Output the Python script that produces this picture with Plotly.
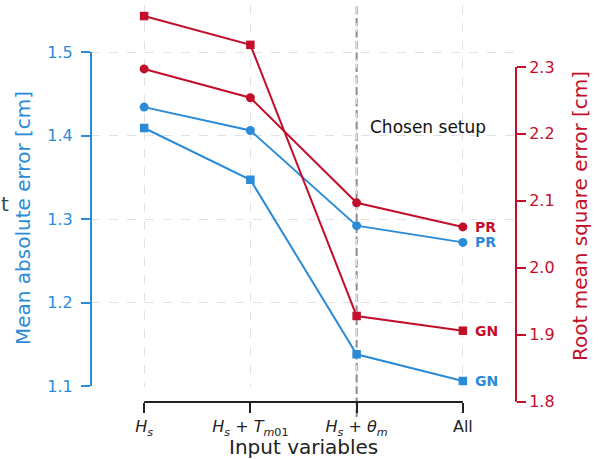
import plotly.graph_objects as go

# ---- data ----
categories = [0, 1, 2, 3]
tick_labels = [
    "<i>H</i><sub><i>s</i></sub>",
    "<i>H</i><sub><i>s</i></sub> + <i>T</i><sub><i>m</i>01</sub>",
    "<i>H</i><sub><i>s</i></sub> + <i>θ</i><sub><i>m</i></sub>",
    "All",
]
mae_pr = [1.434, 1.406, 1.292, 1.272]
mae_gn = [1.409, 1.347, 1.138, 1.106]
rmse_pr = [2.297, 2.254, 2.097, 2.061]
rmse_gn = [2.376, 2.333, 1.928, 1.906]
mae_ticks = [1.1, 1.2, 1.3, 1.4, 1.5]
rmse_ticks = [1.8, 1.9, 2.0, 2.1, 2.2, 2.3]

BLUE = "#2b8bd6"
RED = "#c20f2b"
DARK = "#222222"
GRID = "#e2e2e2"
FONT = "DejaVu Sans"

fig = go.Figure()

fig.add_trace(go.Scatter(x=categories, y=mae_pr, mode="lines+markers",
                         line=dict(color=BLUE, width=2),
                         marker=dict(symbol="circle", size=9, color=BLUE),
                         xaxis="x", yaxis="y", showlegend=False))
fig.add_trace(go.Scatter(x=categories, y=mae_gn, mode="lines+markers",
                         line=dict(color=BLUE, width=2),
                         marker=dict(symbol="square", size=8.5, color=BLUE),
                         xaxis="x", yaxis="y", showlegend=False))
fig.add_trace(go.Scatter(x=categories, y=rmse_pr, mode="lines+markers",
                         line=dict(color=RED, width=2),
                         marker=dict(symbol="circle", size=9, color=RED),
                         xaxis="x2", yaxis="y2", showlegend=False))
fig.add_trace(go.Scatter(x=categories, y=rmse_gn, mode="lines+markers",
                         line=dict(color=RED, width=2),
                         marker=dict(symbol="square", size=8.5, color=RED),
                         xaxis="x2", yaxis="y2", showlegend=False))

# plot area: x 91..516 px, y 5..402 px
W_PAPER = 425.0
H_PAPER = 397.0
y_dom_bottom = 15.0 / H_PAPER


def px_x(p):
    return (p - 91) / W_PAPER


def px_y(p):
    return (402 - p) / H_PAPER


fig.update_layout(
    width=598, height=459, autosize=False,
    margin=dict(l=91, r=82, t=5, b=57, pad=0),
    paper_bgcolor="white", plot_bgcolor="rgba(0,0,0,0)",
    font=dict(family=FONT, color=DARK),
    xaxis=dict(domain=[0, 1], range=[-0.5, 3.5], anchor="free", position=0,
               automargin=False,
               tickmode="array", tickvals=categories, ticktext=tick_labels,
               ticks="outside", ticklen=10, tickwidth=2, tickcolor=DARK,
               tickfont=dict(size=16, color=DARK, family=FONT),
               showline=False, zeroline=False,
               showgrid=True, gridcolor=GRID, griddash="dash", gridwidth=1),
    yaxis=dict(domain=[y_dom_bottom, 1], range=[1.0988, 1.5563], anchor="x",
               automargin=False,
               tickmode="array", tickvals=mae_ticks, ticktext=["1.1", "1.2", "1.3", "1.4", "1.5"],
               ticks="outside", ticklen=9, tickwidth=2, tickcolor=BLUE,
               ticklabelstandoff=5,
               tickfont=dict(size=16, color=BLUE, family=FONT),
               showline=False, zeroline=False,
               showgrid=True, gridcolor=GRID, griddash="dash", gridwidth=1),
    xaxis2=dict(domain=[0, 1], range=[-0.5, 3.5], anchor="y2", visible=False,
                automargin=False, showgrid=False, zeroline=False),
    yaxis2=dict(domain=[0, 1], range=[1.7995, 2.3925], anchor="free", position=1,
                side="right", automargin=False,
                tickmode="array", tickvals=rmse_ticks, ticktext=["1.8", "1.9", "2.0", "2.1", "2.2", "2.3"],
                ticks="outside", ticklen=9, tickwidth=2, tickcolor=RED,
                tickfont=dict(size=16, color=RED, family=FONT),
                showline=False, zeroline=False, showgrid=False),
)

shapes = [
    # bounded spines
    dict(type="line", xref="paper", yref="y", x0=0, x1=0, y0=mae_ticks[0], y1=mae_ticks[-1],
         line=dict(color=BLUE, width=2)),
    dict(type="line", xref="paper", yref="y2", x0=1, x1=1, y0=rmse_ticks[0], y1=rmse_ticks[-1],
         line=dict(color=RED, width=2)),
    dict(type="line", xref="x", yref="paper", x0=categories[0], x1=categories[-1], y0=0, y1=0,
         line=dict(color=DARK, width=2)),
    # chosen setup marker line
    dict(type="line", xref="x", yref="paper", x0=2, x1=2, y0=-15.0 / H_PAPER, y1=1,
         line=dict(color="#8c8c8c", width=2, dash="8px,3.5px"), layer="below"),
]
fig.update_layout(shapes=shapes)

annotations = [
    # axis titles
    dict(text="Input variables", xref="paper", yref="paper", x=px_x(303), y=px_y(447),
         showarrow=False, xanchor="center", yanchor="middle",
         font=dict(size=20, color=DARK, family=FONT)),
    dict(text="Mean absolute error [cm]", xref="paper", yref="paper", x=px_x(23), y=px_y(218),
         showarrow=False, xanchor="center", yanchor="middle", textangle=-90,
         font=dict(size=20, color=BLUE, family=FONT)),
    dict(text="Root mean square error [cm]", xref="paper", yref="paper", x=px_x(580), y=px_y(216),
         showarrow=False, xanchor="center", yanchor="middle", textangle=-90,
         font=dict(size=20, color=RED, family=FONT)),
    dict(text="Chosen setup", xref="x", yref="y", x=2.672, y=1.410, showarrow=False,
         font=dict(size=17, color="#111111", family=FONT), xanchor="center", yanchor="middle"),
    dict(text="<b>PR</b>", xref="x2", yref="y2", x=3, y=rmse_pr[-1], xshift=10, showarrow=False,
         xanchor="left", yanchor="middle", font=dict(size=14, color=RED, family=FONT)),
    dict(text="<b>GN</b>", xref="x2", yref="y2", x=3, y=rmse_gn[-1], xshift=10, showarrow=False,
         xanchor="left", yanchor="middle", font=dict(size=14, color=RED, family=FONT)),
    dict(text="<b>PR</b>", xref="x", yref="y", x=3, y=mae_pr[-1], xshift=10, showarrow=False,
         xanchor="left", yanchor="middle", font=dict(size=14, color=BLUE, family=FONT)),
    dict(text="<b>GN</b>", xref="x", yref="y", x=3, y=mae_gn[-1], xshift=10, showarrow=False,
         xanchor="left", yanchor="middle", font=dict(size=14, color=BLUE, family=FONT)),
    dict(text="t", xref="paper", yref="paper", x=px_x(5), y=px_y(204),
         showarrow=False, xanchor="center", yanchor="middle",
         font=dict(size=20, color="#2f4f4f", family=FONT)),
]
fig.update_layout(annotations=annotations)

fig.write_html("out.html", config={"displayModeBar": False},
               post_script="document.body.style.margin='0px';")
